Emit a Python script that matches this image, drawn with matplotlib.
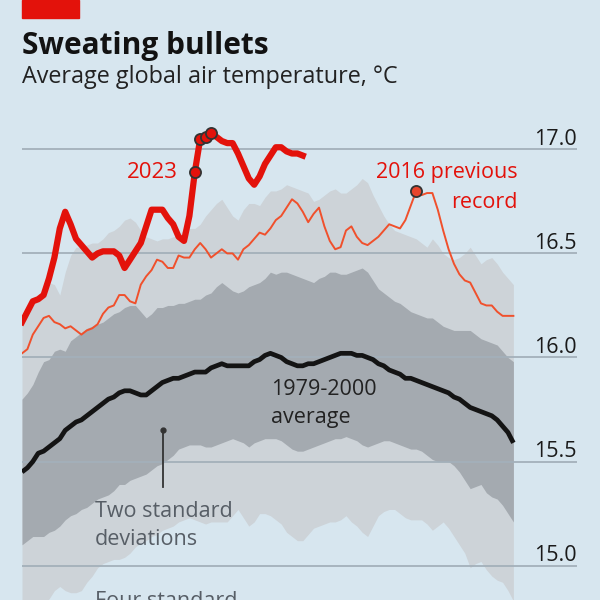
import numpy as np
import matplotlib.pyplot as plt
import matplotlib.transforms as mtransforms
from matplotlib.patches import Rectangle

plt.rcParams['font.family'] = ['Open Sans', 'DejaVu Sans']

# days from June 1st
days = np.arange(92)
days_2023 = np.arange(53)

t_2023 = [16.17, 16.22, 16.27, 16.28, 16.30, 16.38, 16.48, 16.62, 16.70, 16.64,
          16.57, 16.54, 16.51, 16.48, 16.50, 16.51, 16.51, 16.51, 16.49, 16.43,
          16.47, 16.51, 16.55, 16.63, 16.71, 16.71, 16.71, 16.67, 16.64, 16.58,
          16.56, 16.68, 16.89, 17.05, 17.06, 17.08, 17.06, 17.04, 17.03, 17.03,
          16.98, 16.92, 16.86, 16.83, 16.87, 16.93, 16.97, 17.01, 17.01, 16.99,
          16.98, 16.98, 16.97]
record_days_2023 = [32, 33, 34, 35]

t_2016 = [16.02, 16.04, 16.11, 16.15, 16.19, 16.20, 16.17, 16.16, 16.14, 16.15,
          16.13, 16.11, 16.13, 16.14, 16.16, 16.21, 16.24, 16.25, 16.30, 16.30,
          16.27, 16.26, 16.35, 16.39, 16.42, 16.47, 16.46, 16.43, 16.43, 16.49,
          16.48, 16.48, 16.52, 16.55, 16.52, 16.48, 16.50, 16.52, 16.50, 16.50,
          16.47, 16.52, 16.54, 16.57, 16.60, 16.59, 16.62, 16.66, 16.68, 16.72,
          16.76, 16.74, 16.70, 16.65, 16.69, 16.72, 16.63, 16.56, 16.52, 16.53,
          16.61, 16.63, 16.58, 16.55, 16.54, 16.56, 16.58, 16.61, 16.64, 16.63,
          16.62, 16.66, 16.73, 16.80, 16.78, 16.79, 16.79, 16.71, 16.61, 16.52,
          16.45, 16.40, 16.37, 16.36, 16.31, 16.26, 16.25, 16.25, 16.22, 16.20,
          16.20, 16.20]
record_day_2016 = 73

avg = [15.45, 15.47, 15.50, 15.54, 15.55, 15.57, 15.59, 15.61, 15.65, 15.67,
       15.69, 15.70, 15.72, 15.74, 15.76, 15.78, 15.80, 15.81, 15.83, 15.84,
       15.84, 15.83, 15.82, 15.82, 15.84, 15.86, 15.88, 15.89, 15.90, 15.90,
       15.91, 15.92, 15.93, 15.93, 15.93, 15.95, 15.96, 15.97, 15.96, 15.96,
       15.96, 15.96, 15.96, 15.98, 15.99, 16.01, 16.02, 16.01, 16.00, 15.98,
       15.97, 15.96, 15.96, 15.97, 15.97, 15.98, 15.99, 16.00, 16.01, 16.02,
       16.02, 16.02, 16.01, 16.01, 16.00, 15.99, 15.97, 15.96, 15.94, 15.93,
       15.92, 15.90, 15.90, 15.89, 15.88, 15.87, 15.86, 15.85, 15.84, 15.83,
       15.81, 15.80, 15.78, 15.76, 15.75, 15.74, 15.73, 15.72, 15.70, 15.67,
       15.64, 15.59]

sd2_hi = [15.80, 15.83, 15.87, 15.93, 15.98, 15.99, 16.03, 16.04, 16.03, 16.08,
          16.10, 16.12, 16.14, 16.15, 16.16, 16.17, 16.19, 16.21, 16.22, 16.24,
          16.25, 16.25, 16.22, 16.19, 16.21, 16.24, 16.24, 16.25, 16.25, 16.26,
          16.26, 16.27, 16.28, 16.28, 16.30, 16.31, 16.34, 16.36, 16.34, 16.32,
          16.31, 16.32, 16.34, 16.35, 16.36, 16.38, 16.41, 16.40, 16.41, 16.41,
          16.40, 16.39, 16.38, 16.37, 16.36, 16.38, 16.39, 16.41, 16.41, 16.40,
          16.40, 16.41, 16.42, 16.43, 16.41, 16.37, 16.33, 16.31, 16.29, 16.27,
          16.26, 16.24, 16.22, 16.21, 16.20, 16.19, 16.19, 16.17, 16.15, 16.14,
          16.13, 16.13, 16.13, 16.13, 16.11, 16.09, 16.08, 16.07, 16.06, 16.03,
          16.00, 15.98]

sd2_lo = [15.10, 15.12, 15.14, 15.14, 15.14, 15.16, 15.17, 15.19, 15.22, 15.24,
          15.25, 15.27, 15.28, 15.30, 15.32, 15.33, 15.34, 15.36, 15.39, 15.39,
          15.41, 15.42, 15.43, 15.44, 15.46, 15.48, 15.49, 15.51, 15.53, 15.56,
          15.57, 15.58, 15.58, 15.58, 15.57, 15.57, 15.58, 15.59, 15.60, 15.61,
          15.60, 15.59, 15.57, 15.59, 15.60, 15.61, 15.61, 15.61, 15.60, 15.58,
          15.56, 15.55, 15.55, 15.56, 15.57, 15.58, 15.59, 15.60, 15.61, 15.61,
          15.62, 15.61, 15.60, 15.58, 15.57, 15.58, 15.59, 15.60, 15.60, 15.59,
          15.58, 15.57, 15.56, 15.56, 15.55, 15.53, 15.51, 15.50, 15.50, 15.50,
          15.48, 15.45, 15.41, 15.37, 15.38, 15.39, 15.35, 15.33, 15.32, 15.29,
          15.25, 15.21]

sd4_hi = [16.18, 16.22, 16.26, 16.30, 16.33, 16.36, 16.35, 16.30, 16.41, 16.49,
          16.53, 16.53, 16.54, 16.55, 16.55, 16.57, 16.60, 16.61, 16.63, 16.66,
          16.67, 16.65, 16.61, 16.58, 16.57, 16.56, 16.57, 16.57, 16.58, 16.58,
          16.62, 16.62, 16.62, 16.64, 16.68, 16.71, 16.74, 16.76, 16.72, 16.68,
          16.66, 16.71, 16.74, 16.74, 16.73, 16.77, 16.80, 16.80, 16.81, 16.83,
          16.82, 16.81, 16.80, 16.79, 16.75, 16.76, 16.78, 16.80, 16.81, 16.79,
          16.79, 16.81, 16.83, 16.86, 16.84, 16.78, 16.73, 16.68, 16.64, 16.61,
          16.60, 16.59, 16.58, 16.57, 16.55, 16.53, 16.57, 16.54, 16.50, 16.48,
          16.47, 16.48, 16.50, 16.53, 16.49, 16.45, 16.47, 16.48, 16.45, 16.41,
          16.38, 16.35]

sd4_lo = [14.79, 14.80, 14.81, 14.82, 14.82, 14.84, 14.88, 14.90, 14.88, 14.87,
          14.87, 14.88, 14.92, 14.95, 14.99, 15.01, 15.02, 15.03, 15.03, 15.04,
          15.06, 15.09, 15.11, 15.12, 15.14, 15.15, 15.17, 15.18, 15.19, 15.21,
          15.22, 15.23, 15.22, 15.21, 15.20, 15.21, 15.21, 15.21, 15.21, 15.24,
          15.27, 15.23, 15.19, 15.21, 15.25, 15.25, 15.24, 15.22, 15.20, 15.16,
          15.14, 15.12, 15.12, 15.15, 15.18, 15.19, 15.20, 15.21, 15.21, 15.22,
          15.24, 15.21, 15.19, 15.16, 15.14, 15.19, 15.24, 15.26, 15.27, 15.27,
          15.25, 15.23, 15.22, 15.22, 15.22, 15.20, 15.17, 15.19, 15.21, 15.18,
          15.14, 15.10, 15.06, 14.99, 15.01, 15.02, 14.98, 14.95, 14.93, 14.92,
          14.88, 14.83]

y_ticks = [15.0, 15.5, 16.0, 16.5, 17.0]
y_labels = ['15.0', '15.5', '16.0', '16.5', '17.0']

bg = '#d7e6ef'
red = '#e3120b'
orange = '#f0502c'
light = '#cdd3d8'
dark = '#a4aab0'

fig = plt.figure(figsize=(6, 6), dpi=100, facecolor=bg)
ax = fig.add_axes([22 / 600, 0, 555 / 600, 495 / 600])
ax.set_facecolor(bg)
ax.set_xlim(0, 102.78)
ax.set_ylim(14.835, 17.213)
ax.axis('off')

ax.fill_between(days, sd4_lo, sd4_hi, color=light, lw=0, zorder=1)
ax.fill_between(days, sd2_lo, sd2_hi, color=dark, lw=0, zorder=1.5)

for v in y_ticks:
    ax.axhline(v, color='#a3b0ba', lw=1.3, zorder=2)

trans = mtransforms.blended_transform_factory(ax.transAxes, ax.transData)
for v, lab in zip(y_ticks, y_labels):
    ax.text(1.0, v + 0.02, lab, transform=trans, ha='right', va='baseline',
            fontsize=15.5, color='#1a1a1a')

ax.plot(days, avg, color='#141414', lw=3.4, zorder=4, solid_capstyle='butt')
ax.plot(days, t_2016, color=orange, lw=1.4, zorder=5)
ax.plot(days_2023, t_2023, color=red, lw=4.5, zorder=6, solid_joinstyle='round')

ax.plot([record_day_2016], [t_2016[record_day_2016]], 'o', ms=8, mfc='#e8452c',
        mec='#333333', mew=1.3, zorder=7)
for d in record_days_2023:
    ax.plot([d], [t_2023[d]], 'o', ms=8, mfc=red, mec='#333333', mew=1.3, zorder=7)

# annotations
ax.text(28.9, 16.862, '2023', ha='right', va='baseline', fontsize=16, color=red)
ax.text(91.85, 16.862, '2016 previous', ha='right', va='baseline', fontsize=15.5, color=red)
ax.text(91.85, 16.718, 'record', ha='right', va='baseline', fontsize=15.5, color=red)
ax.text(46.1, 15.82, '1979-2000', ha='left', va='baseline', fontsize=15.5, color='#222222', zorder=8)
ax.text(46.1, 15.686, 'average', ha='left', va='baseline', fontsize=15.5, color='#222222', zorder=8)
ax.text(13.5, 15.234, 'Two standard', ha='left', va='baseline', fontsize=15.5, color='#575e66', zorder=8)
ax.text(13.5, 15.10, 'deviations', ha='left', va='baseline', fontsize=15.5, color='#575e66', zorder=8)
# cut by the bottom edge, as in the original crop
ax.text(13.5, 14.80, 'Four standard', ha='left', va='baseline', fontsize=15.5, color='#575e66',
        zorder=8, clip_on=False)
ax.plot([26.2, 26.2], [15.378, 15.651], color='#333333', lw=1.3, zorder=8)
ax.plot([26.2], [15.651], 'o', ms=3.5, color='#333333', zorder=8)

# header
fig.patches.append(Rectangle((22 / 600, 1 - 18 / 600), 57 / 600, 18 / 600,
                             transform=fig.transFigure, color=red, zorder=10))
fig.text(22 / 600, 1 - 54 / 600, 'Sweating bullets', fontsize=21.5, fontweight='bold',
         color='#121212', ha='left', va='baseline')
fig.text(22 / 600, 1 - 83 / 600, 'Average global air temperature, °C', fontsize=16.8,
         color='#222222', ha='left', va='baseline')

fig.savefig('out.png', dpi=100, facecolor=bg)
